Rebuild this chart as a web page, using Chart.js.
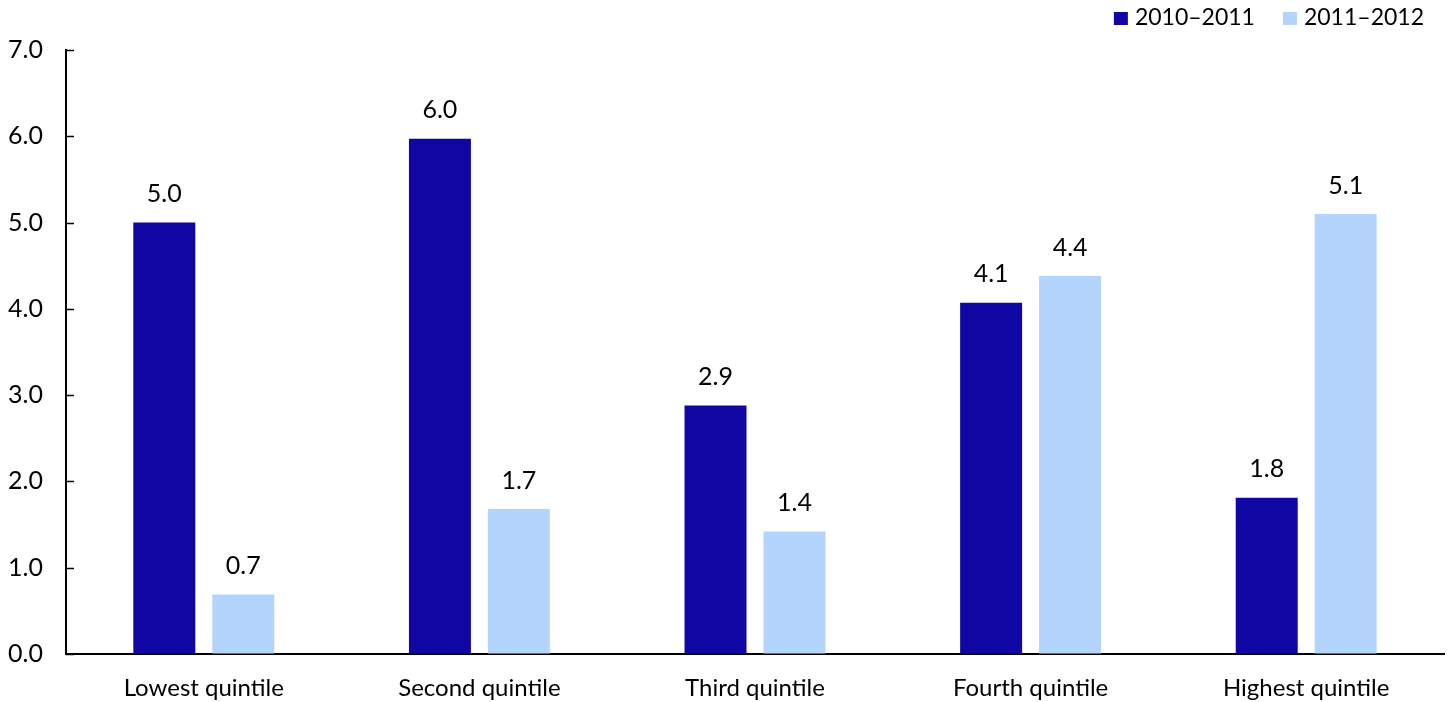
<!DOCTYPE html>
<html>
<head>
<meta charset="utf-8">
<script src="https://cdn.jsdelivr.net/npm/chart.js@4"></script>
<style>
  html, body {margin: 0; padding: 0; background: #fff;}
  #wrap {width: 1451px; height: 702px;}
</style>
</head>
<body>
<div id="wrap"><canvas id="chart"></canvas></div>
<script>
const categories = ['Lowest quintile', 'Second quintile', 'Third quintile', 'Fourth quintile', 'Highest quintile']
const seriesNames = ['2010\u20132011', '2011\u20132012']
const values2010 = [5.0, 5.97, 2.88, 4.07, 1.81]
const values2011 = [0.69, 1.68, 1.42, 4.38, 5.1]
const yTicks = [0, 1, 2, 3, 4, 5, 6, 7]

const FONT = 'Lato, "Open Sans", sans-serif'

// value labels above each bar
const barLabels = {
  id: 'barLabels',
  afterDatasetsDraw(chart) {
    const ctx = chart.ctx
    ctx.save()
    ctx.font = `25px ${FONT}`
    ctx.fillStyle = '#000'
    ctx.textAlign = 'center'
    ctx.textBaseline = 'bottom'
    chart.data.datasets.forEach((ds, i) => {
      chart.getDatasetMeta(i).data.forEach((bar, j) => {
        ctx.fillText(ds.data[j].toFixed(1), bar.x, bar.y - 16)
      })
    })
    ctx.restore()
  },
}

// short tick marks pointing into the plot on the y axis
const innerTicks = {
  id: 'innerTicks',
  afterDraw(chart) {
    const y = chart.scales.y
    const ctx = chart.ctx
    ctx.save()
    ctx.strokeStyle = '#000'
    ctx.lineWidth = 1.5
    for (const v of yTicks) {
      const py = Math.round(y.getPixelForValue(v)) + 0.5
      ctx.beginPath()
      ctx.moveTo(y.right, py)
      ctx.lineTo(y.right + 8, py)
      ctx.stroke()
    }
    ctx.restore()
  },
}

// compact legend in the top right corner, laid out right to left
const topLegend = {
  id: 'topLegend',
  afterDraw(chart) {
    const ctx = chart.ctx
    ctx.save()
    ctx.font = `23px ${FONT}`
    ctx.textBaseline = 'middle'
    let x = 1424
    const y = 18
    const items = chart.data.datasets.slice().reverse()
    for (const ds of items) {
      const w = ctx.measureText(ds.label).width
      ctx.fillStyle = '#000'
      ctx.fillText(ds.label, x - w, y)
      x -= w + 7
      ctx.fillStyle = ds.backgroundColor
      ctx.fillRect(x - 14, y - 6, 14, 13)
      x -= 14 + 28
    }
    ctx.restore()
  },
}

const config = {
  type: 'bar',
  data: {
    labels: categories,
    datasets: [
      {label: seriesNames[0], data: values2010, backgroundColor: '#1006A3'},
      {label: seriesNames[1], data: values2011, backgroundColor: '#B3D4FD'},
    ],
  },
  options: {
    responsive: true,
    maintainAspectRatio: false,
    animation: false,
    categoryPercentage: 0.573,
    barPercentage: 0.785,
    layout: {padding: {left: 2, right: 7, top: 50, bottom: 2}},
    plugins: {
      legend: {display: false},
      tooltip: {enabled: false},
    },
    scales: {
      x: {
        grid: {display: false, drawTicks: false},
        border: {color: '#000', width: 2},
        ticks: {color: '#000', padding: 20, font: {family: FONT, size: 24}},
        afterFit: axis => { axis.height = 46 },
      },
      y: {
        min: 0,
        max: 7,
        afterBuildTicks: axis => {
          axis.ticks = yTicks.map(v => ({value: v}))
        },
        grid: {display: true, drawOnChartArea: false, drawTicks: false},
        border: {color: '#000', width: 2},
        ticks: {
          color: '#000',
          padding: 23,
          font: {family: FONT, size: 25},
          callback: v => Number(v).toFixed(1),
        },
        afterFit: axis => { axis.width = 64 },
      },
    },
  },
  plugins: [barLabels, innerTicks, topLegend],
}

new Chart('chart', config)
</script>
</body>
</html>
